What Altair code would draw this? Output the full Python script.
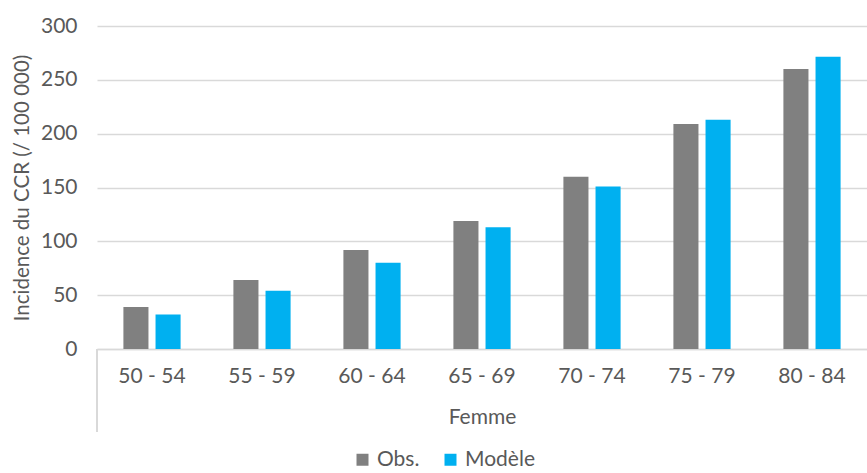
import altair as alt
import pandas as pd

# Incidence of colorectal cancer (per 100 000), women, by age group
age_groups = ["50 - 54", "55 - 59", "60 - 64", "65 - 69", "70 - 74", "75 - 79", "80 - 84"]
observed = [39, 64, 92, 119, 160, 209, 260]
modelled = [32, 54, 80, 113, 151, 213, 271.5]
series_names = ["Obs.", "Modèle"]
series_colors = ["#808080", "#00B0F0"]

rows = []
for g, o, m in zip(age_groups, observed, modelled):
    rows.append({"age": g, "serie": series_names[0], "valeur": o})
    rows.append({"age": g, "serie": series_names[1], "valeur": m})
df = pd.DataFrame(rows)

FONT = "Lato"
TXT = "#595959"
FS = 21
W, H = 770, 323

bars = alt.Chart(df).mark_bar().encode(
    x=alt.X(
        "age:N",
        sort=age_groups,
        scale=alt.Scale(paddingInner=0.48, paddingOuter=0.24),
        axis=alt.Axis(
            title="Femme",
            labelAngle=0,
            ticks=False,
            domainColor="#d9d9d9",
            domainWidth=1.5,
            labelPadding=16,
            titlePadding=20,
            labelFontSize=FS,
            titleFontSize=FS,
            labelColor=TXT,
            titleColor=TXT,
            titleFontWeight="normal",
            labelFont=FONT,
            titleFont=FONT,
        ),
    ),
    xOffset=alt.XOffset("serie:N", sort=series_names,
                        scale=alt.Scale(paddingInner=0.22, paddingOuter=0)),
    y=alt.Y(
        "valeur:Q",
        scale=alt.Scale(domain=[0, 300]),
        axis=alt.Axis(
            title="Incidence du CCR (/ 100 000)",
            values=[0, 50, 100, 150, 200, 250, 300],
            domain=False,
            ticks=False,
            gridColor="#d9d9d9",
            gridWidth=1.5,
            labelPadding=20,
            titlePadding=8,
            labelFontSize=FS,
            titleFontSize=20.5,
            labelColor=TXT,
            titleColor=TXT,
            titleFontWeight="normal",
            labelFont=FONT,
            titleFont=FONT,
        ),
    ),
    color=alt.Color(
        "serie:N",
        sort=series_names,
        scale=alt.Scale(domain=series_names, range=series_colors),
        legend=alt.Legend(
            title=None,
            orient="none",
            direction="horizontal",
            legendX=255,
            legendY=H + 100,
            symbolType="square",
            symbolSize=144,
            symbolStrokeWidth=0,
            symbolOffset=0,
            labelFontSize=FS,
            labelColor=TXT,
            labelFont=FONT,
            labelOffset=4,
            columnPadding=20,
        ),
    ),
)

# left border of the category band under the axis
edge = alt.Chart(df).mark_rule(color="#d9d9d9", strokeWidth=1.5).encode(
    x=alt.value(0), y=alt.value(H), y2=alt.value(H + 83)
)

chart = alt.layer(bars, edge).properties(
    width=W,
    height=H,
    autosize=alt.AutoSizeParams(type="none"),
    padding={"left": 97, "top": 26, "right": 0, "bottom": 124},
).configure_view(stroke=None)

chart.save("out.html", embed_options={"renderer": "svg", "actions": False})
